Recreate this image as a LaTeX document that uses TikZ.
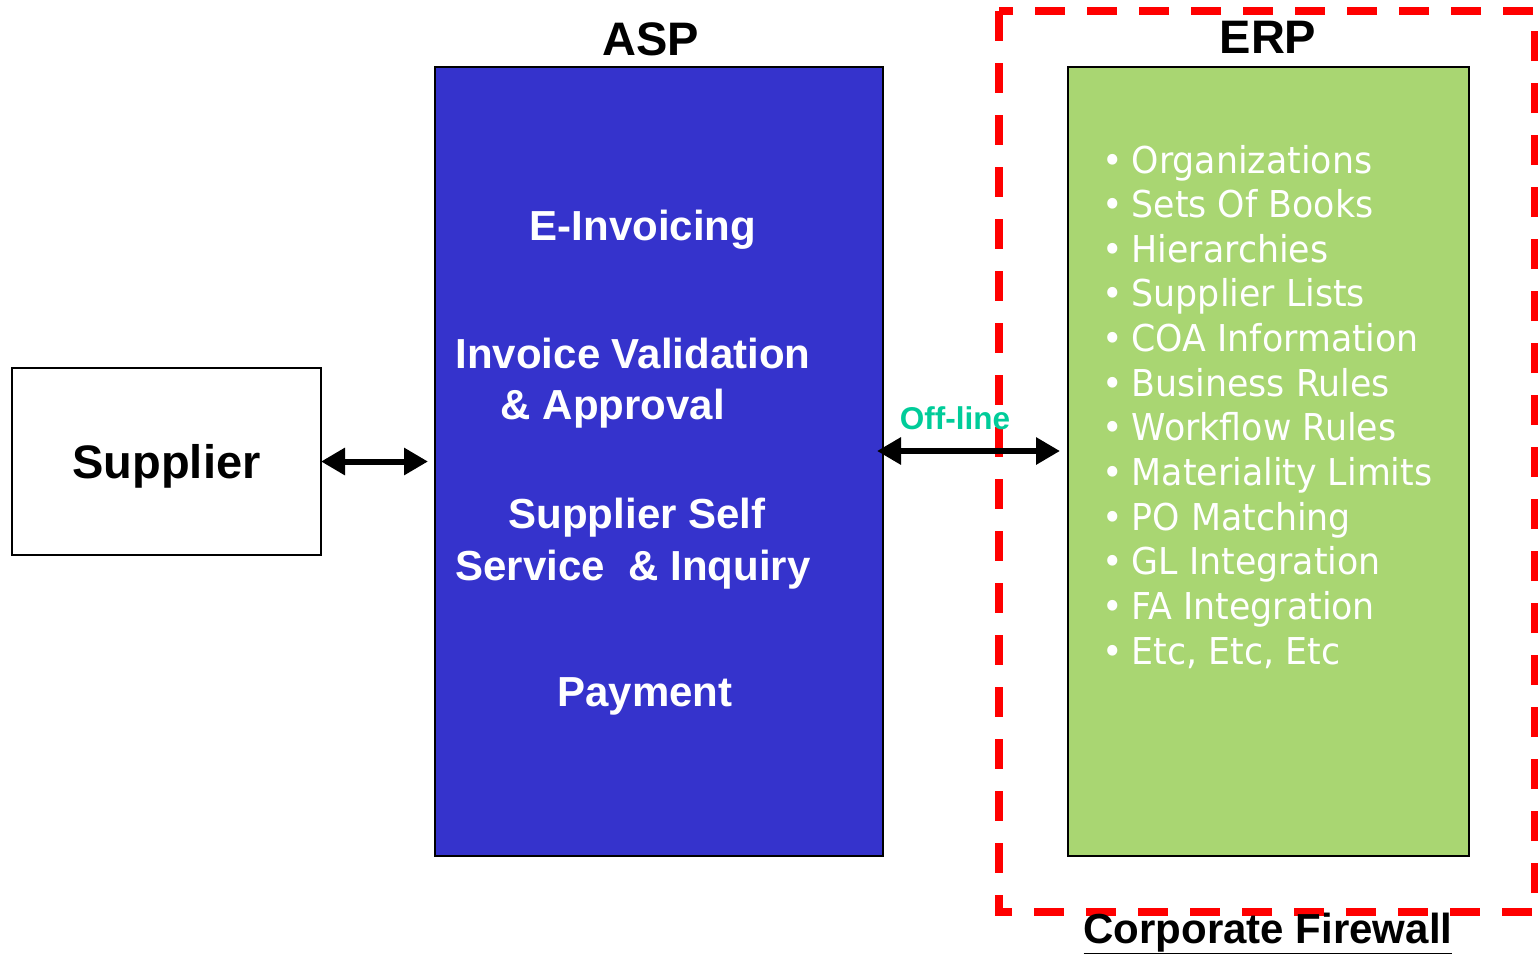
\documentclass[tikz,border=0pt]{standalone}
\usepackage{fontspec}
\setmainfont{Liberation Sans}
\newfontfamily\bulletfont[FakeStretch=0.94]{DejaVu Sans}
\usetikzlibrary{arrows.meta}
\definecolor{aspblue}{RGB}{53,51,204}
\definecolor{erpgreen}{RGB}{169,214,114}
\definecolor{offgreen}{RGB}{0,204,153}
\definecolor{fwred}{RGB}{255,0,0}
\tikzset{
  box/.style={draw=black, line width=2pt, inner sep=0pt, outer sep=0pt},
  title/.style={font=\fontsize{47}{50}\selectfont\bfseries, anchor=base, inner sep=0pt},
  asptext/.style={font=\fontsize{42}{46}\selectfont\bfseries, text=white, anchor=base, inner sep=0pt},
  bulletline/.style={font=\bulletfont\fontsize{37}{40}\selectfont, text=white, anchor=base west, inner sep=0pt},
  bigarrow/.style={line width=6pt, {Triangle[length=24pt,width=26pt]}-{Triangle[length=24pt,width=26pt]}},
  firewall/.style={draw=fwred, line width=8pt, dash pattern=on 30pt off 22pt}
}
\begin{document}
\begin{tikzpicture}[x=1pt,y=-1pt]
\useasboundingbox (0,0) rectangle (1538,953);
% firewall
\draw[firewall] (999,11) rectangle (1535,912);
% boxes
\node[box, fill=white, minimum width=309pt, minimum height=187pt, text depth=0pt, font=\fontsize{47}{50}\selectfont\bfseries] (supplier) at (166.5,461.5) {Supplier};
\node[box, fill=aspblue, minimum width=448pt, minimum height=789pt, anchor=north west] (asp) at (435,67) {};
\node[box, fill=erpgreen, minimum width=401pt, minimum height=789pt, anchor=north west] (erp) at (1068,67) {};
% titles
\node[title] (asptitle) at (651,55) {ASP};
\node[title] (erptitle) at (1268,53) {ERP};
\node[anchor=base, inner sep=0pt, font=\fontsize{42}{46}\selectfont\bfseries] (fw) at (1268,943) {\underline{Corporate Firewall}};
% ASP texts
\node[asptext] (t1) at (643,240) {E-Invoicing};
\node[asptext] (t2) at (633,368) {Invoice Validation};
\node[asptext] (t3) at (613,419) {\& Approval};
\node[asptext] (t4) at (637,528) {Supplier Self};
\node[asptext] (t5) at (633,580) {Service\ \ \& Inquiry};
\node[asptext] (t6) at (645,706) {Payment};
% ERP bullets
\foreach \t [count=\i from 0] in {Organizations, Sets Of Books, Hierarchies, Supplier Lists, COA Information, Business Rules, Workflow Rules, Materiality Limits, PO Matching, GL Integration, FA Integration, {Etc, Etc, Etc}}{
  \node[bulletline] (b\i) at (1102,173+44.65*\i) {•\hspace{9pt}\t};
}
% arrows
\coordinate (ol) at (0,451);
\draw[bigarrow, shorten >=7pt] (supplier.east) -- (supplier.east -| asp.west);
\draw[bigarrow, shorten <=-6pt, shorten >=8pt] (asp.east |- ol) -- (erp.west |- ol);
\node[anchor=base, inner sep=0pt, text=offgreen, font=\fontsize{31.5}{34}\selectfont\bfseries] (offline) at (955,429) {Off-line};
\end{tikzpicture}
\end{document}
